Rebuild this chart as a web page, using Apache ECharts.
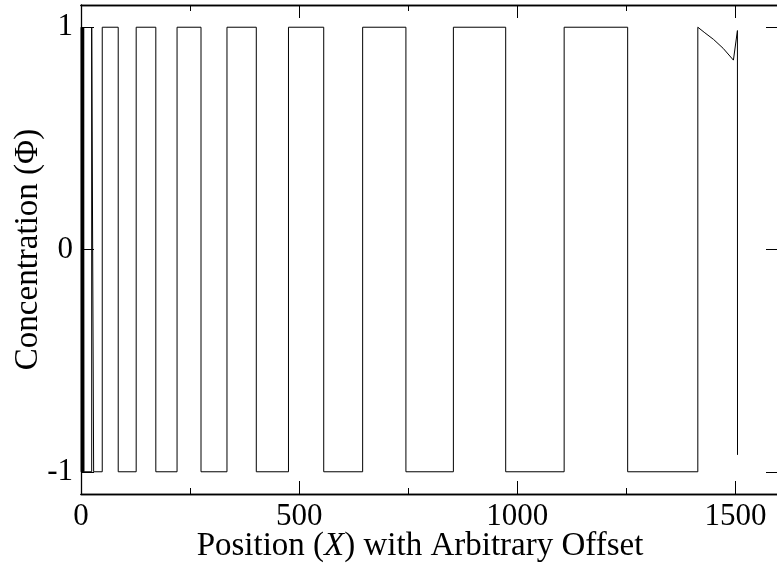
<!DOCTYPE html>
<html><head><meta charset="utf-8">
<script src="https://cdn.jsdelivr.net/npm/echarts@6/dist/echarts.min.js"></script>
<style>html,body{margin:0;padding:0;background:#fff}#c{width:777px;height:569px}</style>
</head><body><div id="c"></div><script>
// Domain-wall positions (x where the concentration switches sign)
const transitions = [0.6, 1.2, 1.8, 2.4, 3.0, 3.6, 4.2, 4.8, 5.4, 6.1, 6.9,
  24.5, 29.0, 48.7, 85.3, 126.5, 171.5, 220.2, 275.1, 334.6, 401.8, 475.6,
  556.4, 645.6, 744.8, 853.6, 973.5, 1107.5, 1253.1, 1413.9];
// Concentration level in each domain (before first wall ... after last wall)
const levels = [1, -1, 1, -1, 1, -1, 1, -1, 1, -1, 1, -1, 1, -1, 1, -1,
  1, -1, 1, -1, 1, -1, 1, -1, 1, -1, 1, -1, 1, -1, 1];
// Decaying tail at the right end
const tailX = [1430, 1450, 1472, 1495.5, 1504.7, 1504.9];
const tailY = [0.975, 0.945, 0.905, 0.852, 0.985, -0.924];
const xMajorTicks = [0, 500, 1000, 1500];
const xMinorTicks = [250, 750, 1250];
const yTicks = [-1, 0, 1];

const pts = [[0, levels[0]]];
for (let i = 0; i < transitions.length; i++) {
  pts.push([transitions[i], levels[i]]);
  pts.push([transitions[i], levels[i + 1]]);
}
for (let i = 0; i < tailX.length; i++) pts.push([tailX[i], tailY[i]]);

const FONT = 'Liberation Serif';
const lineSt = {color: '#000', width: 1.3};
const plain = v => String(v);
function xAx(pos, ticks, len, labels, extra) {
  return Object.assign({
    type: 'value', position: pos, min: 0, max: 1600, gridIndex: 0,
    axisLine: {show: true, onZero: false, lineStyle: lineSt},
    axisTick: {show: true, inside: true, length: len, customValues: ticks, lineStyle: {color: '#000', width: 1}},
    axisLabel: labels ? {show: true, customValues: ticks, formatter: plain, fontFamily: FONT, fontSize: 31, color: '#000', margin: 7} : {show: false},
    splitLine: {show: false}
  }, extra || {});
}
const chart = echarts.init(document.getElementById('c'), null, {renderer: 'canvas'});
chart.setOption({
  animation: false,
  backgroundColor: '#fff',
  grid: {left: 81, top: 5, width: 698, height: 489, containLabel: false, outerBoundsMode: 'none'},
  xAxis: [
    xAx('bottom', xMajorTicks, 13, true, {
      name: '{n|Position (}{i|X}{n|) with Arbitrary Offset}',
      nameLocation: 'middle', nameGap: 36, nameMoveOverlap: false,
      nameTextStyle: {padding: [0, 20, 0, 0], rich: {
        n: {fontFamily: FONT, fontSize: 33, color: '#000'},
        i: {fontFamily: FONT, fontSize: 33, color: '#000', fontStyle: 'italic'}}}
    }),
    xAx('bottom', xMinorTicks, 6, false),
    xAx('top', xMajorTicks, 13, false),
    xAx('top', xMinorTicks, 6, false)
  ],
  yAxis: [
    {type: 'value', position: 'left', min: -1.1, max: 1.1,
     axisLine: {show: true, onZero: false, lineStyle: lineSt},
     axisTick: {show: true, inside: true, length: 13, customValues: yTicks, lineStyle: {color: '#000', width: 1}},
     axisLabel: {show: true, customValues: yTicks, formatter: plain, fontFamily: FONT, fontSize: 31, color: '#000', margin: 8},
     splitLine: {show: false},
     name: 'Concentration (Φ)', nameLocation: 'middle', nameGap: 36, nameRotate: 90, nameMoveOverlap: false,
     nameTextStyle: {fontFamily: FONT, fontSize: 33, color: '#000'}},
    {type: 'value', position: 'right', min: -1.1, max: 1.1,
     axisLine: {show: true, onZero: false, lineStyle: lineSt},
     axisTick: {show: true, inside: true, length: 13, customValues: yTicks, lineStyle: {color: '#000', width: 1}},
     axisLabel: {show: false}, splitLine: {show: false}}
  ],
  series: [{
    type: 'line', xAxisIndex: 0, yAxisIndex: 0, data: pts,
    showSymbol: false, symbol: 'none', clip: true,
    lineStyle: {color: '#000', width: 1}
  }]
});
</script></body></html>
